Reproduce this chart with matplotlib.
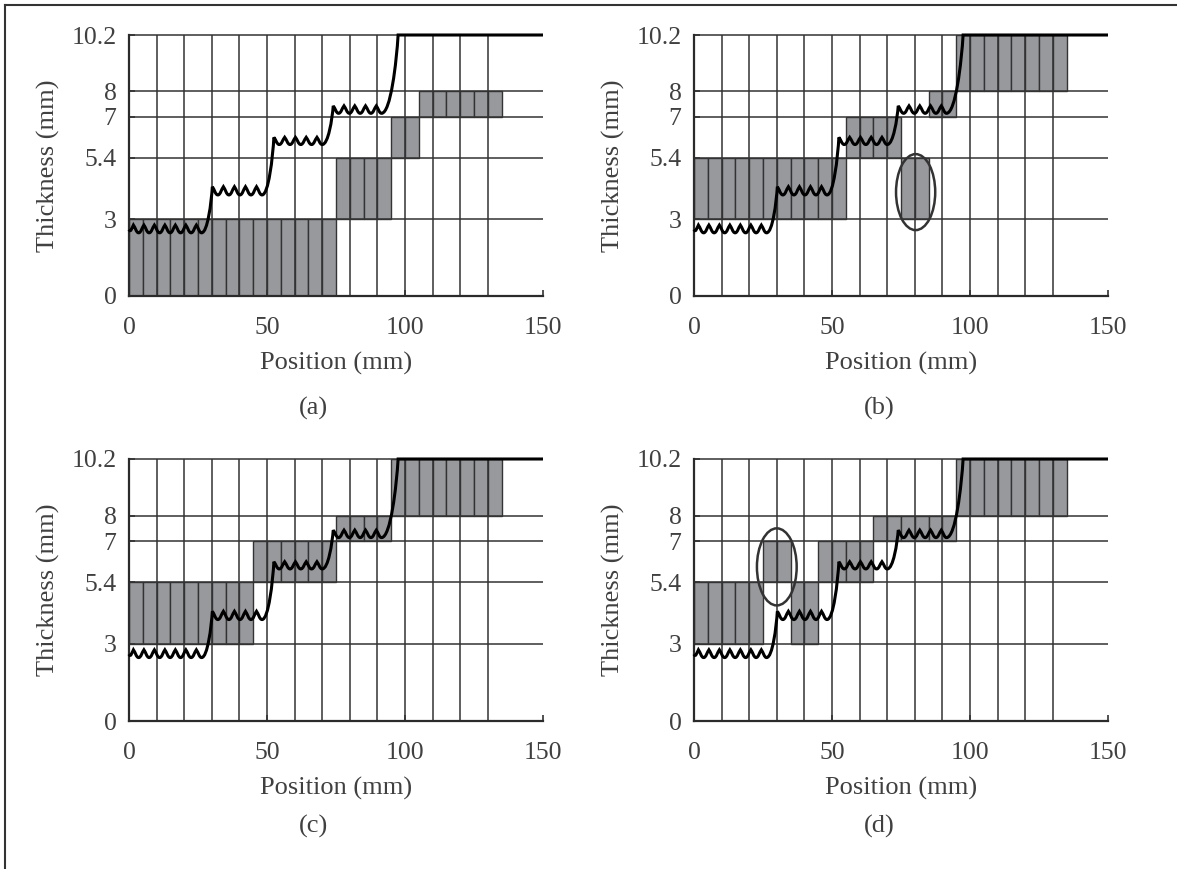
import numpy as np
import matplotlib.pyplot as plt
from matplotlib.path import Path
from matplotlib.patches import PathPatch, Ellipse
from matplotlib.lines import Line2D

plt.rcParams['font.family'] = ['Liberation Serif', 'DejaVu Serif']

W, H = 1177, 869

y_ticks = [0, 3, 5.4, 7, 8, 10.2]
y_ticklabels = ['0', '3', '5.4', '7', '8', '10.2']
x_ticks = [0, 50, 100, 150]
grid_x = list(range(10, 140, 10))
cell_width = 5
x_max = 150

# runs of 5 mm cells: run edges, lower and upper thickness bound of each run
a_edges = [0, 75, 95, 105, 135]
a_low = [0, 3, 5.4, 7]
a_high = [3, 5.4, 7, 8]

b_edges = [0, 55, 75, 85, 95, 135]
b_low = [3, 5.4, 3, 7, 8]
b_high = [5.4, 7, 5.4, 8, 10.2]

c_edges = [0, 45, 75, 95, 135]
c_low = [3, 5.4, 7, 8]
c_high = [5.4, 7, 8, 10.2]

d_edges = [0, 25, 35, 45, 65, 95, 135]
d_low = [3, 5.4, 3, 5.4, 7, 8]
d_high = [5.4, 7, 5.4, 7, 8, 10.2]

panel_labels = ['(a)', '(b)', '(c)', '(d)']

# circled cells: centre x, centre y, width, height
b_circle = (80.3, 4.06, 14.2, 2.97)
d_circle = (30.0, 6.0, 14.4, 3.0)

# measured thickness profile: ripple peaks on each plateau
plateau_peaks = [
    [1.6, 5.4, 9.2, 13.0, 16.8, 20.6, 24.4],
    [30.2, 34.2, 38.2, 42.2, 46.2],
    [52.5, 56.4, 60.3, 64.2, 68.1],
    [74.0, 77.9, 81.8, 85.7, 89.6],
]
plateau_peak_y = [2.77, 4.27, 6.2, 7.43]
plateau_trough_y = [2.47, 3.95, 5.92, 7.14]
plateau_end_x = [26.3, 48.2, 70.0, 91.5]
profile_start = (0, 2.6)
top_x = 97.5
top_y = 10.2


def profile_path():
    verts = [profile_start]
    codes = [Path.MOVETO]
    C4 = [Path.CURVE4] * 3
    # into the first peak
    verts += [(0.6, 2.45), (1.2, 2.7), (plateau_peaks[0][0], plateau_peak_y[0])]
    codes += C4
    n = len(plateau_peaks)
    for i in range(n):
        pk = plateau_peaks[i]
        P = plateau_peak_y[i]
        T = plateau_trough_y[i]
        for k in range(1, len(pk)):
            x0, x1 = pk[k - 1], pk[k]
            m = (x0 + x1) / 2
            h = (x1 - x0) / 2
            verts += [(x0 + 0.35 * h, P - 0.3 * (P - T)), (m - 0.45 * h, T), (m, T)]
            codes += C4
            verts += [(m + 0.45 * h, T), (x1 - 0.35 * h, P - 0.3 * (P - T)), (x1, P)]
            codes += C4
        tx = plateau_end_x[i]
        h = tx - pk[-1]
        verts += [(pk[-1] + 0.35 * h, P - 0.3 * (P - T)), (tx - 0.45 * h, T), (tx, T)]
        codes += C4
        if i < n - 1:
            nx = plateau_peaks[i + 1][0]
            nP = plateau_peak_y[i + 1]
        else:
            nx, nP = top_x, top_y
        w = nx - tx
        verts += [(tx + 0.55 * w, T), (nx - 0.1 * w, nP - 0.35 * (nP - T)), (nx, nP)]
        codes += C4
    verts.append((x_max, top_y))
    codes.append(Path.LINETO)
    return Path(verts, codes)


fig = plt.figure(figsize=(W / 100, H / 100), dpi=100)

boxes = [(129, 35, 543, 296), (694, 35, 1108, 296),
         (129, 459, 543, 721), (694, 459, 1108, 721)]
panels = [(a_edges, a_low, a_high, None),
          (b_edges, b_low, b_high, b_circle),
          (c_edges, c_low, c_high, None),
          (d_edges, d_low, d_high, d_circle)]
label_pos = [(313, 408), (879, 408), (313, 826), (879, 826)]

line_col = '#333333'
text_col = '#404040'

for box, (edges, low, high, circ), lab, lp in zip(boxes, panels, panel_labels, label_pos):
    l, t, r, b = box
    ax = fig.add_axes([l / W, 1 - b / H, (r - l) / W, (b - t) / H])

    for j in range(len(low)):
        xs = np.arange(edges[j], edges[j + 1], cell_width)
        ax.bar(xs, high[j] - low[j], width=cell_width, bottom=low[j], align='edge',
               color='#98999d', edgecolor=line_col, linewidth=1.0, zorder=1)

    ax.vlines(grid_x, 0, 10.2, colors=line_col, linewidth=1.1, zorder=2)
    hl = ax.hlines(y_ticks[1:], 0, x_max, colors=line_col, linewidth=1.1, zorder=2)
    hl.set_clip_on(False)

    ax.add_patch(PathPatch(profile_path(), facecolor='none', edgecolor='black',
                           linewidth=2.2, zorder=3, clip_on=False))

    if circ is not None:
        ax.add_patch(Ellipse((circ[0], circ[1]), circ[2], circ[3], fill=False,
                             edgecolor=line_col, linewidth=1.8, zorder=4))

    ax.set_xlim(0, x_max)
    ax.set_ylim(0, 10.2)
    ax.set_xticks(x_ticks)
    ax.set_yticks(y_ticks)
    ax.set_yticklabels(y_ticklabels)
    ax.spines['top'].set_visible(False)
    ax.spines['right'].set_visible(False)
    for s in ['left', 'bottom']:
        ax.spines[s].set_linewidth(1.6)
        ax.spines[s].set_color('#2b2b2b')
    ax.tick_params(direction='in', length=4, width=1.2, colors=line_col,
                   labelcolor=text_col, labelsize=18.5)
    ax.tick_params(axis='x', pad=15)
    ax.tick_params(axis='y', pad=9)

    ax.set_xlabel('Position (mm)', fontsize=19, color=text_col)
    ax.xaxis.label.set_va('baseline')
    ax.xaxis.set_label_coords(0.5, -74 / (b - t))
    ax.set_ylabel('Thickness (mm)', fontsize=19, color=text_col)
    ax.yaxis.set_label_coords(-0.167, 0.5)

    fig.text(lp[0] / W, 1 - lp[1] / H, lab, fontsize=19, color=text_col,
             ha='center', va='center')

# frame around the figure (top and left edges)
fig.add_artist(Line2D([5 / W, 5 / W], [0, 1 - 5 / H], color=line_col, linewidth=1.5,
                      transform=fig.transFigure))
fig.add_artist(Line2D([5 / W, 1], [1 - 5 / H, 1 - 5 / H], color=line_col, linewidth=1.5,
                      transform=fig.transFigure))

fig.savefig('out.png', dpi=100)
